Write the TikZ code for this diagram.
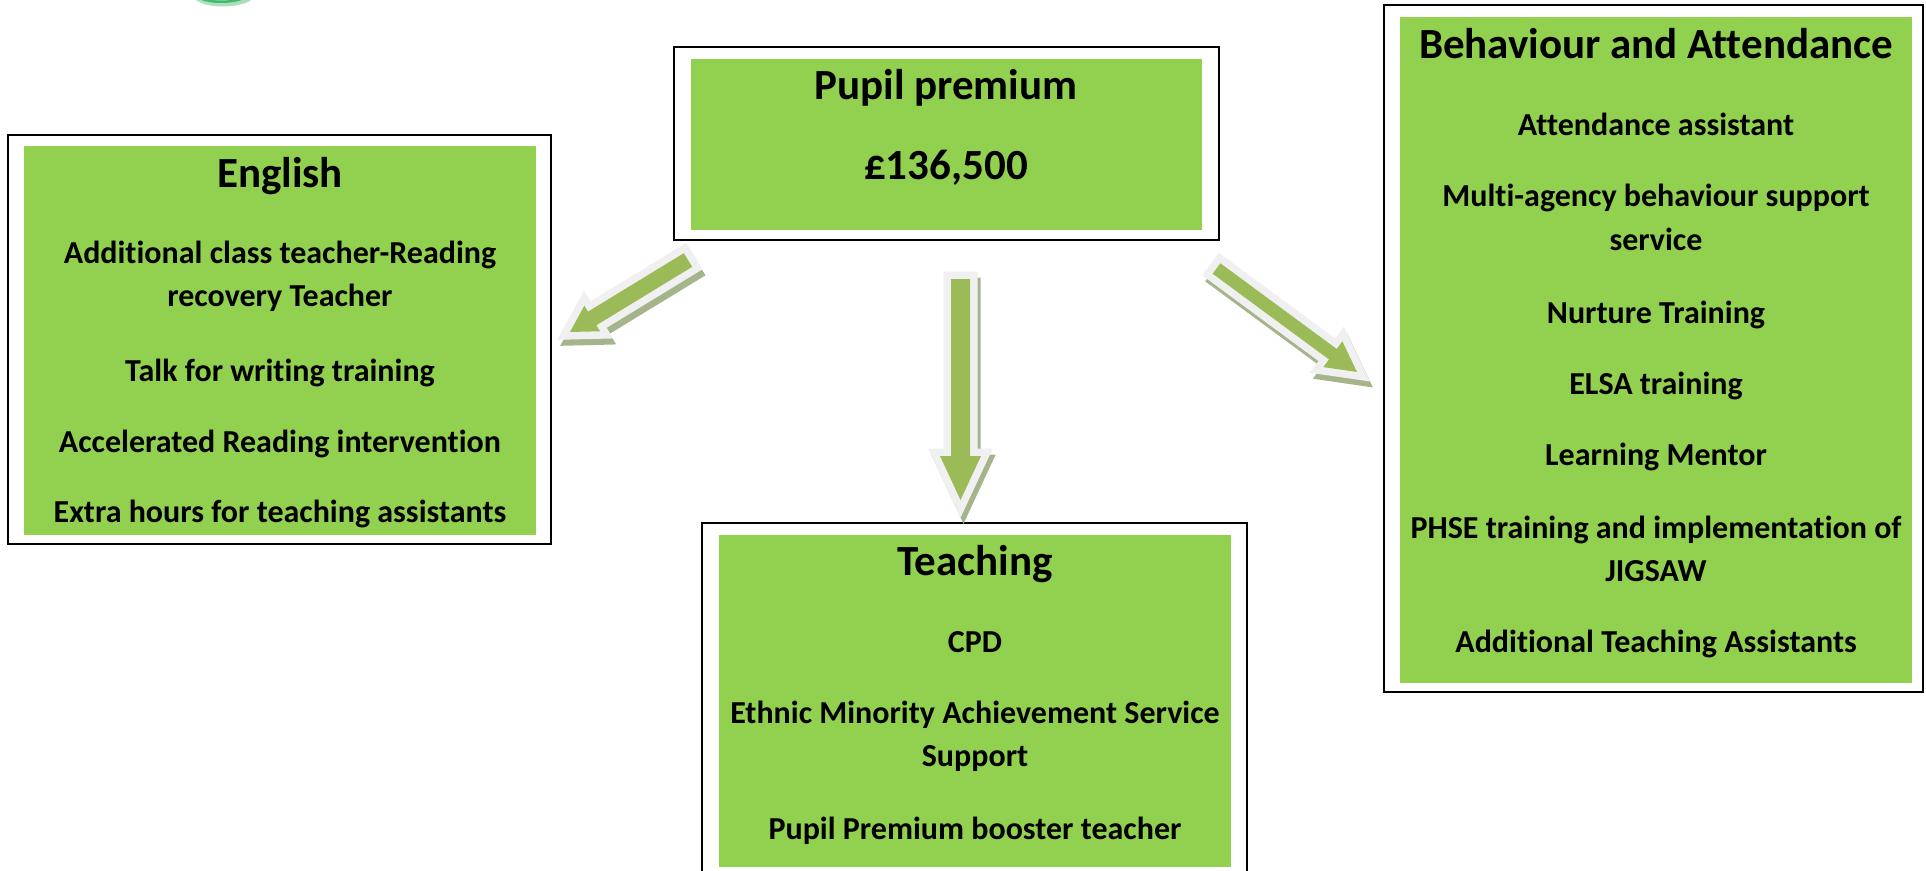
\documentclass[tikz,border=0pt]{standalone}
\usepackage{fontspec}
\setmainfont{Carlito}[Ligatures=NoCommon]
\usetikzlibrary{calc,fit}

\definecolor{boxgreen}{HTML}{92D050}
\definecolor{arrowgreen}{HTML}{9BBB59}
\definecolor{arrowrim}{HTML}{F0F0F0}
\definecolor{arrowshade}{RGB}{166,180,140}
\definecolor{logogreen}{RGB}{70,185,110}

\tikzset{
  frame/.style={draw=black, line width=2.2pt, fill=white, inner sep=0pt},
  panel/.style={fill=boxgreen, inner sep=0pt},
  head/.style={font=\fontsize{43}{45}\selectfont\bfseries, inner sep=0pt, anchor=mid},
  item/.style={font=\fontsize{32}{34}\selectfont\bfseries, inner sep=0pt, anchor=mid},
}

% Block arrow: #1 tail, #2 tip, #3 shaft half-width, #4 head half-width, #5 head length
\newcommand\fatarrow[5]{%
  \coordinate (fa1) at ($(#1)!#3!90:(#2)$);
  \coordinate (fah) at ($(#2)!#5!(#1)$);
  \coordinate (fa2) at ($(fah)!#3!90:(#2)$);
  \coordinate (fa3) at ($(fah)!#4!90:(#2)$);
  \coordinate (fa4) at ($(fah)!#4!-90:(#2)$);
  \coordinate (fa5) at ($(fah)!#3!-90:(#2)$);
  \coordinate (fa6) at ($(#1)!#3!-90:(#2)$);
  \filldraw[arrowshade, line width=15pt, line join=miter, transform canvas={shift={(3pt,-6pt)}}]
    (fa1) -- (fa2) -- (fa3) -- (#2) -- (fa4) -- (fa5) -- (fa6) -- cycle;
  \filldraw[arrowrim, line width=15pt, line join=miter]
    (fa1) -- (fa2) -- (fa3) -- (#2) -- (fa4) -- (fa5) -- (fa6) -- cycle;
  \fill[arrowgreen]
    (fa1) -- (fa2) -- (fa3) -- (#2) -- (fa4) -- (fa5) -- (fa6) -- cycle;
}

\begin{document}
\begin{tikzpicture}[x=1pt, y=-1pt]
  \useasboundingbox (0,0) rectangle (1926,870);
  \clip (0,0) rectangle (1926,870);
  \fill[white] (0,0) rectangle (1926,870);

  % fragment of a logo at the top edge
  \draw[logogreen!45, line width=6pt] (196,-4) .. controls (205,6) and (240,6) .. (252,-4);
  \draw[logogreen, line width=2.5pt] (200,-2) .. controls (210,3) and (232,3) .. (244,-2);

  % Pupil premium
  \node[frame, fit={(674,47) (1219,240)}] (ppframe) {};
  \node[panel, fit={(691,59) (1202,230)}] (pppanel) {};
  \node[head] (pptitle) at (946,97) {Pupil premium};
  \node[head] (ppamount) at (946,177) {£136,500};

  % English
  \node[frame, fit={(8,135) (551,544)}] (enframe) {};
  \node[panel, fit={(24,146) (536,535)}] (enpanel) {};
  \node[head] (entitle) at (280,185) {English};
  \node[item] (en1a) at (280,261) {Additional class teacher-Reading};
  \node[item] (en1b) at (280,304) {recovery Teacher};
  \node[item] (en2) at (280,379) {Talk for writing training};
  \node[item] (en3) at (280,450) {Accelerated Reading intervention};
  \node[item] (en4) at (280,520) {Extra hours for teaching assistants};

  % Teaching
  \node[frame, fit={(702,523) (1247,885)}] (teframe) {};
  \node[panel, fit={(719,535) (1231,867)}] (tepanel) {};
  \node[head] (tetitle) at (975,573) {Teaching};
  \node[item] (te1) at (975,650) {CPD};
  \node[item] (te2a) at (975,721) {Ethnic Minority Achievement Service};
  \node[item] (te2b) at (975,764) {Support};
  \node[item] (te3) at (975,837) {Pupil Premium booster teacher};

  % Behaviour and Attendance
  \node[frame, fit={(1384,5) (1923,692)}] (baframe) {};
  \node[panel, fit={(1400,17) (1912,683)}] (bapanel) {};
  \node[head] (batitle) at (1656,56) {Behaviour and Attendance};
  \node[item] (ba1) at (1656,133) {Attendance assistant};
  \node[item] (ba2a) at (1656,204) {Multi-agency behaviour support};
  \node[item] (ba2b) at (1656,248) {service};
  \node[item] (ba3) at (1656,321) {Nurture Training};
  \node[item] (ba4) at (1656,392) {ELSA training};
  \node[item] (ba5) at (1656,463) {Learning Mentor};
  \node[item] (ba6a) at (1656,536) {PHSE training and implementation of};
  \node[item] (ba6b) at (1656,579) {JIGSAW};
  \node[item] (ba7) at (1656,650) {Additional Teaching Assistants};

  % arrows out of the Pupil premium box
  \coordinate (ltail) at (688,260);
  \coordinate (ltip) at (570,332);
  \coordinate (ctail) at (960.5,279);
  \coordinate (ctip) at (960.5,500);
  \coordinate (rtail) at (1216.5,268.5);
  \coordinate (rtip) at (1357,372);
  \fatarrow{ltail}{ltip}{8pt}{15pt}{26pt}
  \fatarrow{ctail}{ctip}{9.5pt}{20.5pt}{44pt}
  \fatarrow{rtail}{rtip}{6.5pt}{16pt}{30pt}
\end{tikzpicture}
\end{document}
